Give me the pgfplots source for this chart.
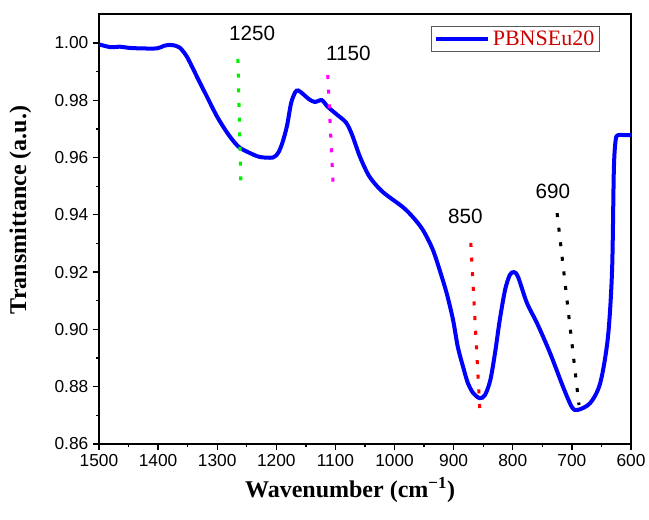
\documentclass[border=0pt]{standalone}
\usepackage{pgfplots}
\pgfplotsset{compat=1.18}
\usepackage{fontspec}
\setmainfont{Liberation Serif}
\setsansfont{Liberation Sans}
\definecolor{legred}{RGB}{204,0,0}
\definecolor{mygreen}{RGB}{0,240,0}
\definecolor{mymag}{RGB}{255,0,255}
\begin{document}
\begin{tikzpicture}
\useasboundingbox (-74.25pt,-56.25pt) rectangle (412.5pt,333pt);
\begin{axis}[
 scale only axis, width=399pt, height=322.5pt,
 x dir=reverse, xmin=600, xmax=1500, ymin=0.86, ymax=1.0101,
 xtick={600,700,800,900,1000,1100,1200,1300,1400,1500}, minor x tick num=1,
 ytick={0.86,0.88,0.90,0.92,0.94,0.96,0.98,1.00}, minor y tick num=1,
 tick align=outside, xtick pos=bottom, ytick pos=left,
 major tick length=4.5pt, minor tick length=2.5pt,
 axis line style={line width=1pt},
 every tick/.style={black, line width=1pt},
 tick label style={font=\fontsize{13}{15}\sffamily},
 /pgf/number format/assume math mode=true,
 xticklabel style={/pgf/number format/1000 sep={}},
 yticklabel style={/pgf/number format/.cd,fixed,fixed zerofill,precision=2},
 xlabel={\textbf{Wavenumber (cm\textsuperscript{−1})}},
 ylabel={\textbf{Transmittance (a.u.)}},
 label style={font=\fontsize{18}{20}\selectfont},
 xlabel style={at={(axis description cs:0.472,-0.107)}, anchor=center},
 ylabel style={at={(axis description cs:-0.148,0.544)}, anchor=center},
 legend style={at={(0.942,0.972)}, anchor=north east, draw=gray!70!black, line width=0.8pt,
   font=\fontsize{16.5}{18}\selectfont, text=legred, inner xsep=2pt, inner ysep=1pt},
 legend cell align=left,
 legend image code/.code={\draw[#1, line width=3pt] (0pt,0pt) -- (39pt,0pt);},
]
\addplot[blue, line width=3pt, smooth, tension=0.5] coordinates {
(1500,0.9995) (1480,0.9985) (1465,0.9987) (1450,0.9983) (1430,0.9981) (1402,0.9981)
(1390,0.9990) (1380,0.9993) (1370,0.9990) (1363,0.9983) (1351,0.9951)
(1334,0.9881) (1317,0.9811) (1300,0.9742) (1283,0.9686) (1270,0.9651) (1261,0.9633)
(1245,0.9616) (1228,0.9602) (1206,0.9600) (1197,0.9616) (1190,0.9650) (1182,0.9710)
(1175,0.9790) (1168,0.9828) (1163,0.9834) (1155,0.9822) (1145,0.9804) (1135,0.9794)
(1123,0.9800) (1113,0.9777) (1097,0.9749) (1082,0.9722) (1072,0.9680) (1058,0.9600)
(1042,0.9532) (1020,0.9480) (986,0.9427) (969,0.9392) (952,0.9347) (935,0.9277)
(920,0.9183) (911,0.9120) (901,0.9033) (893,0.8939) (884,0.8869) (876,0.8813)
(867,0.8778) (856,0.8760) (847,0.8771) (838,0.8823) (830,0.8918) (822,0.9033)
(813,0.9138) (805,0.9190) (798,0.9200) (791,0.9183) (776,0.9092) (759,0.9022)
(737,0.8918) (715,0.8800) (700,0.8729) (690,0.8719) (669,0.8743) (652,0.8813)
(639,0.8973) (632,0.9207) (629,0.9557) (626,0.9660) (622,0.9678) (610,0.9678) (600,0.9678)
};
\addlegendentry{PBNSEu20}
\addplot[mygreen, line width=2.3pt, dash pattern=on 3pt off 8pt, forget plot] coordinates {(1265,0.9944) (1260,0.9511)};
\addplot[mymag, line width=2.3pt, dash pattern=on 3pt off 8pt, forget plot] coordinates {(1113,0.9888) (1104,0.9511)};
\addplot[red, line width=2.3pt, dash pattern=on 3pt off 8pt, forget plot] coordinates {(871,0.9302) (855,0.8694)};
\addplot[black, line width=2.3pt, dash pattern=on 3pt off 8pt, forget plot] coordinates {(725,0.9406) (688,0.8736)};
\node[font=\fontsize{15.5}{17}\sffamily] at (axis cs:1241,1.0033) {1250};
\node[font=\fontsize{15.5}{17}\sffamily] at (axis cs:1078,0.9962) {1150};
\node[font=\fontsize{15.5}{17}\sffamily] at (axis cs:880,0.9394) {850};
\node[font=\fontsize{15.5}{17}\sffamily] at (axis cs:732,0.9482) {690};
\end{axis}
\end{tikzpicture}
\end{document}
